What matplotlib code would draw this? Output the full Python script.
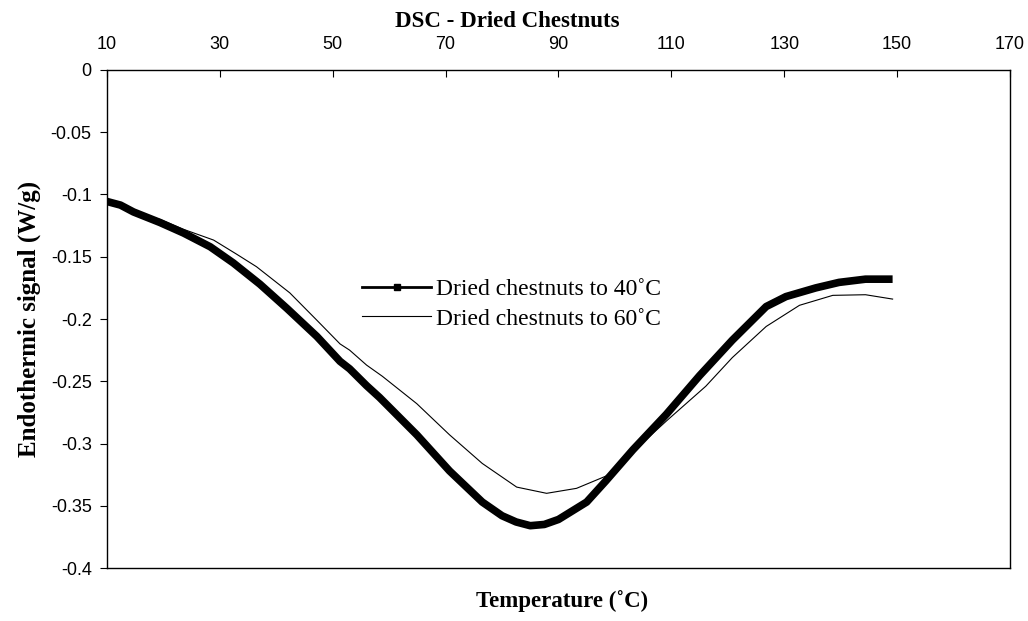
import numpy as np
import matplotlib
matplotlib.use("Agg")
import matplotlib.pyplot as plt
from matplotlib.lines import Line2D

plt.rcParams['axes.unicode_minus'] = False

# values
temp_40 = [10, 12.4, 14.7, 19.4, 23.6, 28.3, 32.4, 37.1, 41.9, 47.2, 51.3, 53, 56, 58.3,
           64.9, 70.7, 76.5, 80, 82.5, 85, 87.5, 90, 95, 98.4, 103.2, 109.1, 115, 120.8,
           126.8, 130.3, 135.6, 139.7, 144.4, 149.2]
signal_40 = [-0.1056, -0.1085, -0.114, -0.1225, -0.131, -0.142, -0.155, -0.172, -0.1915,
             -0.214, -0.234, -0.240, -0.2535, -0.263, -0.293, -0.322, -0.347, -0.358,
             -0.363, -0.366, -0.365, -0.361, -0.347, -0.330, -0.305, -0.2766, -0.2455,
             -0.217, -0.190, -0.182, -0.175, -0.1706, -0.168, -0.168]

temp_60 = [10, 12.4, 14.7, 19.4, 23.6, 28.9, 33, 36.5, 42.4, 47.2, 51.3, 53, 56, 58.8,
           64.9, 70.7, 76.5, 82.6, 87.9, 93.2, 98.5, 104.3, 109.1, 116.1, 120.8, 126.8,
           132.7, 138.6, 144.4, 149.2]
signal_60 = [-0.1056, -0.1085, -0.114, -0.120, -0.128, -0.1366, -0.148, -0.158, -0.179,
             -0.201, -0.220, -0.225, -0.237, -0.246, -0.268, -0.293, -0.316, -0.335,
             -0.340, -0.336, -0.326, -0.302, -0.282, -0.254, -0.231, -0.206, -0.189,
             -0.181, -0.1805, -0.184]

x_ticks = [10, 30, 50, 70, 90, 110, 130, 150, 170]
y_ticks = [0, -0.05, -0.1, -0.15, -0.2, -0.25, -0.3, -0.35, -0.4]

fig = plt.figure(figsize=(10.28, 6.21), dpi=100)
ax = fig.add_axes([0.104, 0.0853, 0.8785, 0.802])

ax.plot(temp_40, signal_40, color='black', lw=5.5, solid_capstyle='butt', solid_joinstyle='round')
ax.plot(temp_60, signal_60, color='black', lw=0.8)

ax.set_xlim(10, 170)
ax.set_ylim(-0.4, 0)
ax.set_xticks(x_ticks)
ax.set_xticklabels([str(t) for t in x_ticks])
ax.set_yticks(y_ticks)
ax.set_yticklabels(['%g' % v for v in y_ticks])

ax.xaxis.tick_top()
ax.tick_params(axis='x', direction='in', length=5, pad=12, labelsize=13)
ax.tick_params(axis='y', direction='out', length=5, pad=6, labelsize=13)
for lab in ax.get_xticklabels() + ax.get_yticklabels():
    lab.set_fontfamily('Liberation Sans')
for sp in ax.spines.values():
    sp.set_linewidth(1.0)

ax.set_ylabel('Endothermic signal (W/g)', fontfamily='Liberation Serif',
              fontweight='bold', fontsize=18, labelpad=7)
fig.text(0.547, 0.015, 'Temperature (˚C)', ha='center', va='bottom',
         fontfamily='Liberation Serif', fontweight='bold', fontsize=16.5)
fig.text(0.493, 0.966, 'DSC - Dried Chestnuts', ha='center', va='center',
         fontfamily='Liberation Serif', fontweight='bold', fontsize=16.5)

handles = [Line2D([], [], color='black', lw=2, marker='s', markersize=4),
           Line2D([], [], color='black', lw=0.8)]
ax.legend(handles, ['Dried chestnuts to 40˚C', 'Dried chestnuts to 60˚C'],
          loc='center left', bbox_to_anchor=(0.283, 0.53), frameon=False,
          prop={'family': 'Liberation Serif', 'size': 17},
          handlelength=2.9, handletextpad=0.2, labelspacing=0.35,
          borderpad=0, borderaxespad=0)

fig.savefig('out.png', dpi=100)
